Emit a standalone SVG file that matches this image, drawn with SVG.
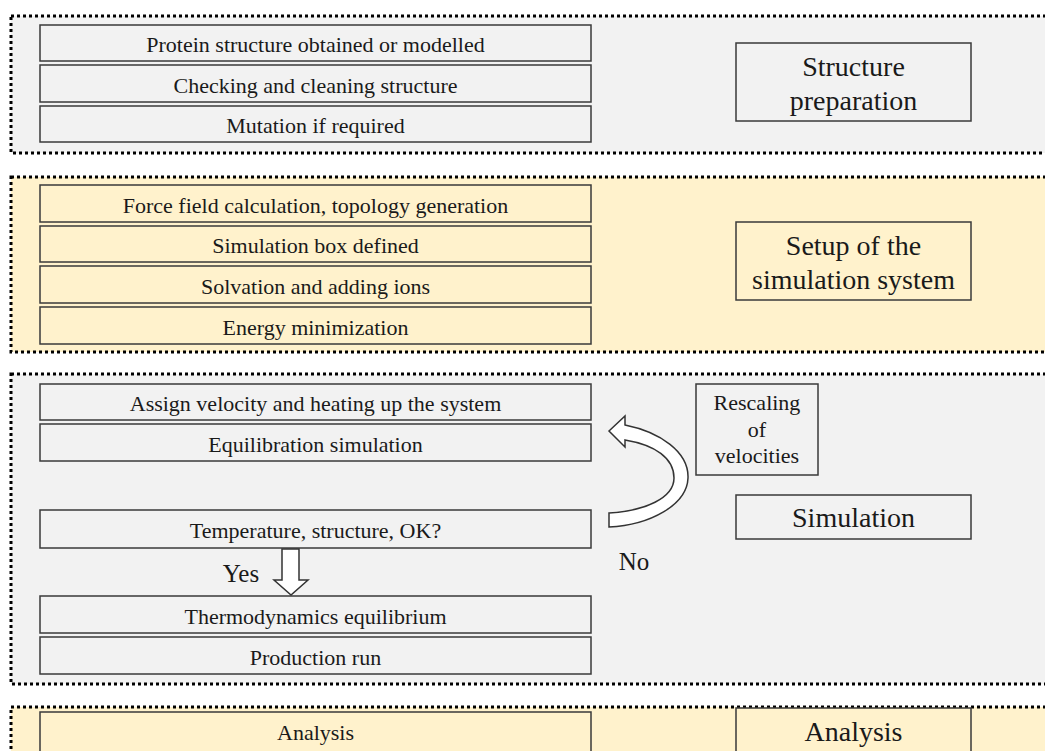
<svg xmlns="http://www.w3.org/2000/svg" width="1045" height="751" viewBox="0 0 1045 751">
<style>
.panel{stroke:#000;stroke-width:3;stroke-dasharray:3 3;}
.gray{fill:#f2f2f2;}
.yel{fill:#fff2cc;}
.box{stroke:#3a3a3a;stroke-width:1.5;}
.t{font-family:"Liberation Serif","Times New Roman",serif;fill:#1a1a1a;text-anchor:middle;}
.s{font-size:22px;}
.l{font-size:28px;}
.m{font-size:25px;}
.arrow{fill:#fff;stroke:#333;stroke-width:1.5;stroke-linejoin:miter;}
</style>
<rect width="1045" height="751" fill="#fff"/>
<g id="panel-structure">
<rect class="panel gray" x="11" y="16" width="1050" height="137"/>
</g>
<g id="panel-setup">
<rect class="panel yel" x="11" y="177" width="1050" height="175"/>
</g>
<g id="panel-simulation">
<rect class="panel gray" x="11" y="374" width="1050" height="310"/>
</g>
<g id="panel-analysis">
<rect class="panel yel" x="11" y="707" width="1050" height="60"/>
</g>

<g id="n-protein"><rect class="box gray" x="40" y="25" width="551" height="36"/><text class="t s" x="315.5" y="52">Protein structure obtained or modelled</text></g>
<g id="n-checking"><rect class="box gray" x="40" y="65" width="551" height="37"/><text class="t s" x="315.5" y="92.5">Checking and cleaning structure</text></g>
<g id="n-mutation"><rect class="box gray" x="40" y="106" width="551" height="36"/><text class="t s" x="315.5" y="133">Mutation if required</text></g>
<g id="n-structprep"><rect class="box gray" x="736" y="43" width="235" height="78"/><text class="t l" x="853.5" y="76">Structure</text><text class="t l" x="853.5" y="110">preparation</text></g>

<g id="n-forcefield"><rect class="box yel" x="40" y="185" width="551" height="37"/><text class="t s" x="315.5" y="212.5">Force field calculation, topology generation</text></g>
<g id="n-simbox"><rect class="box yel" x="40" y="226" width="551" height="36"/><text class="t s" x="315.5" y="253">Simulation box defined</text></g>
<g id="n-solvation"><rect class="box yel" x="40" y="266" width="551" height="37"/><text class="t s" x="315.5" y="293.5">Solvation and adding ions</text></g>
<g id="n-energy"><rect class="box yel" x="40" y="307" width="551" height="37"/><text class="t s" x="315.5" y="334.5">Energy minimization</text></g>
<g id="n-setup"><rect class="box yel" x="736" y="222" width="235" height="78"/><text class="t l" x="853.5" y="255">Setup of the</text><text class="t l" x="853.5" y="289">simulation system</text></g>

<g id="n-assign"><rect class="box gray" x="40" y="384" width="551" height="36"/><text class="t s" x="315.5" y="411">Assign velocity and heating up the system</text></g>
<g id="n-equil"><rect class="box gray" x="40" y="424" width="551" height="37"/><text class="t s" x="315.5" y="451.5">Equilibration simulation</text></g>
<g id="n-temp"><rect class="box gray" x="40" y="510" width="551" height="38"/><text class="t s" x="315.5" y="538">Temperature, structure, OK?</text></g>
<g id="n-thermo"><rect class="box gray" x="40" y="596" width="551" height="37"/><text class="t s" x="315.5" y="623.5">Thermodynamics equilibrium</text></g>
<g id="n-production"><rect class="box gray" x="40" y="637" width="551" height="37"/><text class="t s" x="315.5" y="664.5">Production run</text></g>
<g id="n-rescaling"><rect class="box gray" x="696" y="384" width="122" height="91"/><text class="t s" x="757" y="410">Rescaling</text><text class="t s" x="757" y="437">of</text><text class="t s" x="757" y="463">velocities</text></g>
<g id="n-simulation"><rect class="box gray" x="736" y="495" width="235" height="44"/><text class="t l" x="853.5" y="527">Simulation</text></g>

<g id="n-analysis-step"><rect class="box yel" x="40" y="712" width="551" height="40"/><text class="t s" x="315.5" y="740">Analysis</text></g>
<g id="n-analysis"><rect class="box yel" x="736" y="708" width="235" height="48"/><text class="t l" x="853.5" y="741">Analysis</text></g>

<g id="connectors">
<path class="arrow" d="M609,431 L625,416 L625,425 C660,432 689,452 688,478 C687,505 650,525 609,527 L609,513 C645,511 674,498 674,478 C674,458 655,445 625,440 L625,447 Z"/>
<text class="t m" x="634" y="570">No</text>
<path class="arrow" d="M282,549 L299,549 L299,580 L308,580 L291,595 L274,580 L282,580 Z"/>
<text class="t m" x="241" y="582">Yes</text>
</g>
</svg>
